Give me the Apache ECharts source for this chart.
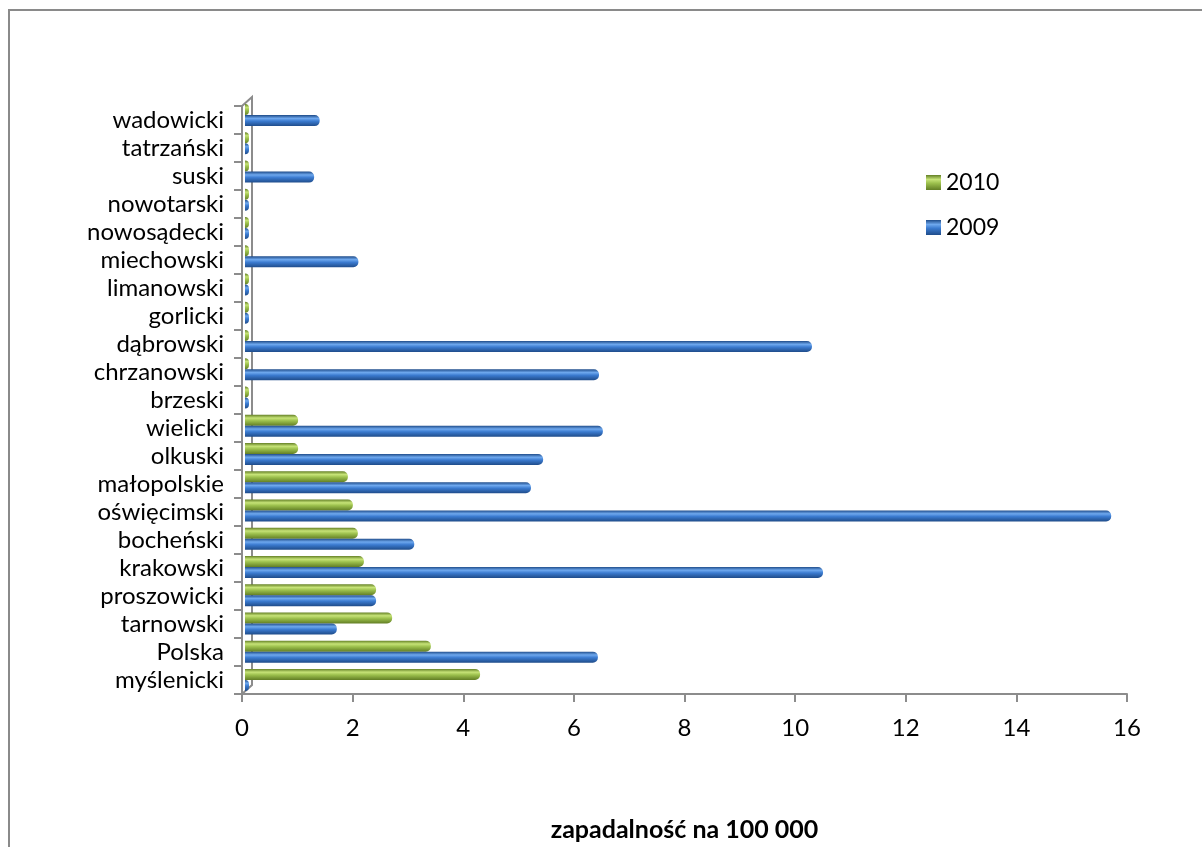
<!DOCTYPE html>
<html>
<head>
<meta charset="utf-8">
<script src="https://cdn.jsdelivr.net/npm/echarts@6/dist/echarts.min.js"></script>
<style>
  html, body { margin: 0; padding: 0; background: #fff; }
  #frame { position: absolute; left: 8px; top: 9px; width: 1300px; height: 900px;
           border-left: 2px solid #8a8a8a; border-top: 2px solid #8a8a8a; }
  #chart { position: absolute; left: 0; top: 0; width: 1202px; height: 847px; }
</style>
</head>
<body>
<div id="frame"></div>
<div id="chart"></div>
<script>
// Districts, listed from the bottom of the chart upwards
const categories = ['myślenicki', 'Polska', 'tarnowski', 'proszowicki', 'krakowski', 'bocheński',
  'oświęcimski', 'małopolskie', 'olkuski', 'wielicki', 'brzeski', 'chrzanowski', 'dąbrowski',
  'gorlicki', 'limanowski', 'miechowski', 'nowosądecki', 'nowotarski', 'suski', 'tatrzański', 'wadowicki'];

// Incidence per 100 000 inhabitants
const values2009 = [0, 6.38, 1.66, 2.37, 10.45, 3.06, 15.66, 5.17, 5.39, 6.47, 0, 6.4, 10.25,
  0, 0, 2.05, 0, 0, 1.25, 0, 1.35];
const values2010 = [4.25, 3.36, 2.66, 2.37, 2.15, 2.04, 1.95, 1.86, 0.96, 0.96, 0, 0, 0,
  0, 0, 0, 0, 0, 0, 0, 0];

const seriesNames = ['2010', '2009'];
const xTicks = { min: 0, max: 16, interval: 2 };
const axisTitle = 'zapadalność na 100 000';

const FONT = 'Lato, "Open Sans", sans-serif';
const AXIS_GREY = '#8c8c8c';
const LABEL_SIZE = 24;

function tube(dark, light, mid) {
  return new echarts.graphic.LinearGradient(0, 0, 0, 1, [
    { offset: 0, color: dark },
    { offset: 0.3, color: light },
    { offset: 0.55, color: mid },
    { offset: 1, color: dark }
  ]);
}
const blue = tube('#1f4c8a', '#6ea8ee', '#3b7bd0');
const green = tube('#637f25', '#c6e377', '#9cc04d');

const chart = echarts.init(document.getElementById('chart'), null, { renderer: 'canvas' });

const barCommon = {
  type: 'bar',
  xAxisIndex: 1,
  yAxisIndex: 1,
  barWidth: 11,
  barGap: '0%',
  barMinHeight: 4,
  emphasis: { disabled: true }
};

chart.setOption({
  animation: false,
  backgroundColor: 'transparent',
  textStyle: { fontFamily: FONT },
  grid: [
    // front: axes and labels
    { left: 242, right: 75, top: 106, bottom: 148 },
    // back plane: bars, shifted by the depth of the wall
    { left: 245, right: 72, top: 101, bottom: 153 }
  ],
  legend: {
    orient: 'vertical',
    left: 921,
    top: 166,
    itemWidth: 15,
    itemHeight: 15,
    itemGap: 22,
    icon: 'rect',
    data: ['2010', '2009'],
    textStyle: { fontSize: 23, color: '#000', fontFamily: FONT }
  },
  xAxis: [
    {
      gridIndex: 0,
      type: 'value',
      min: xTicks.min, max: xTicks.max, interval: xTicks.interval,
      axisLine: { show: true, lineStyle: { color: AXIS_GREY, width: 2 } },
      axisTick: { show: true, length: 8, lineStyle: { color: AXIS_GREY, width: 2 } },
      splitLine: { show: false },
      axisLabel: { fontSize: LABEL_SIZE, color: '#000', margin: 22, fontFamily: FONT },
      name: axisTitle,
      nameLocation: 'middle',
      nameGap: 123,
      nameTextStyle: { fontSize: 25, fontWeight: 'bold', color: '#000', fontFamily: FONT }
    },
    {
      gridIndex: 1,
      type: 'value',
      min: xTicks.min, max: xTicks.max, interval: xTicks.interval,
      show: false
    }
  ],
  yAxis: [
    {
      gridIndex: 0,
      type: 'category',
      data: categories,
      axisLine: { show: true, lineStyle: { color: AXIS_GREY, width: 2 } },
      axisTick: { show: true, length: 8, lineStyle: { color: AXIS_GREY, width: 2 } },
      axisLabel: { fontSize: LABEL_SIZE, color: '#000', margin: 18, fontFamily: FONT, interval: 0 },
      splitLine: { show: false }
    },
    {
      gridIndex: 1,
      type: 'category',
      data: categories,
      show: false
    }
  ],
  series: [
    Object.assign({}, barCommon, {
      name: seriesNames[0],
      data: values2010,
      itemStyle: { color: green, borderRadius: [0, 5, 5, 0] }
    }),
    Object.assign({}, barCommon, {
      name: seriesNames[1],
      data: values2009,
      itemStyle: { color: blue, borderRadius: [0, 5, 5, 0] }
    })
  ]
});

// Side wall of the plot: back edge and the two depth edges, placed from the axis scale
const x0 = chart.convertToPixel({ xAxisIndex: 0 }, 0);
const rect = chart.getModel().getComponent('grid', 0).coordinateSystem.getRect();
const dx = 10, dy = -9;
const wallStyle = { stroke: AXIS_GREY, lineWidth: 2, fill: null };
chart.setOption({
  graphic: [
    { type: 'polyline', z: 1, silent: true,
      shape: { points: [[x0, rect.y], [x0 + dx, rect.y + dy], [x0 + dx, rect.y + rect.height + dy], [x0, rect.y + rect.height]] },
      style: wallStyle }
  ]
});
</script>
</body>
</html>
